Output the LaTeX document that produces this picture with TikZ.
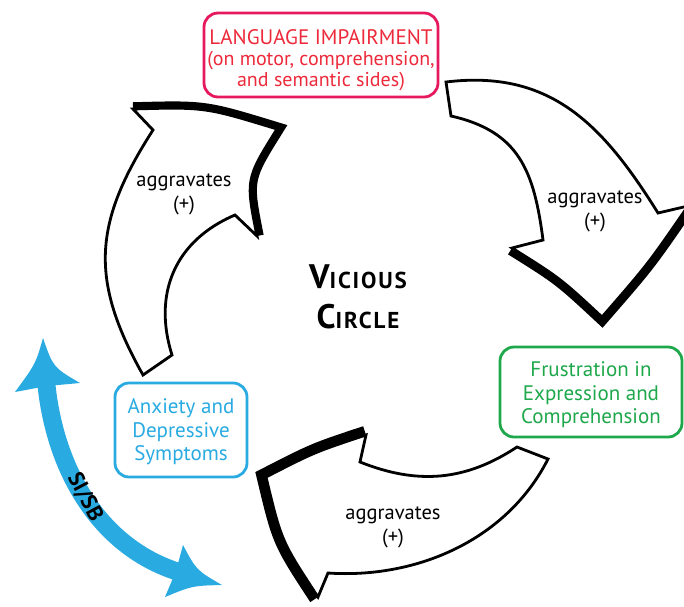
\documentclass[tikz,border=0pt]{standalone}
\usepackage{fontspec}
\setmainfont{PT Sans}
\newcommand\fsz[2]{\fontsize{#1}{#2}\selectfont}
\definecolor{langborder}{HTML}{E6195E}
\definecolor{langtext}{HTML}{ED2A3B}
\definecolor{frusgreen}{HTML}{1EA84B}
\definecolor{anxblue}{HTML}{29ABE2}
\definecolor{sicol}{HTML}{29ABE2}
\begin{document}
\begin{tikzpicture}[x=1pt,y=-1pt,
  arrowbody/.style={fill=white,draw=black,line width=2.8pt,line join=miter},
  shadeA/.style={draw=black,line width=13.5pt,line join=miter},
  shadeB/.style={draw=black,line width=15pt,line join=miter},
  shadeC/.style={draw=black,line width=18.5pt,line join=miter},
  box/.style={rounded corners=14pt,line width=2.8pt,fill=white,inner sep=0pt},
  boxtext/.style={align=center,inner sep=0pt},
  agg/.style={align=center,font=\fsz{20.5}{24}},
  siline/.style={draw=sicol,line width=18pt}]
\useasboundingbox (0,0) rectangle (684,606);

% arrow 1 (left, upwards)
\begin{scope}
  \clip (153,130) -- (133,109) -- (53,25) -- (380,0) -- (380,320) -- (345,320) -- (257,236) -- (235,215) -- cycle;
  \draw[shadeA] (133,109) .. controls (205,107) .. (277,129) .. controls (245.7,179.2) .. (257,236);
\end{scope}
\draw[arrowbody] (143,375) .. controls (89,279) and (93.6,222.4) .. (153,130) -- (133,109)
  .. controls (205,107) .. (277,129) .. controls (245.7,179.2) .. (257,236) -- (235,215)
  .. controls (175.2,240.4) and (152.5,293.3) .. (172,355) -- cycle;

% arrow 2 (right, downwards)
\begin{scope}
  \clip (543,240) -- (512,248) -- (388,280) -- (388,420) -- (808,420) -- (808,178) -- (688,206) -- (658,213) -- cycle;
  \draw[shadeB] (512,248) .. controls (560.2,278.2) .. (602,317) .. controls (648.2,263.9) .. (688,206);
\end{scope}
\draw[arrowbody] (446,82) .. controls (550,69.4) and (602.4,123.8) .. (658,213) -- (688,206)
  .. controls (648.2,263.9) .. (602,317) .. controls (560.2,278.2) .. (512,248) -- (543,240)
  .. controls (534,170.7) and (519,131.4) .. (451,116) -- cycle;

% arrow 3 (bottom, leftwards)
\begin{scope}
  \clip (360,462) -- (366,435) -- (390,327) -- (150,327) -- (150,693) -- (278,693) -- (318,597) -- (328,573) -- cycle;
  \draw[shadeC] (366,435) .. controls (314.7,452) .. (266,477) .. controls (281.3,541) .. (318,597);
\end{scope}
\draw[arrowbody] (517,447) -- (548,459) .. controls (507.5,539) and (418,579) .. (328,573) -- (318,597)
  .. controls (281.3,541) .. (266,477) .. controls (314.7,452) .. (366,435) -- (360,462)
  .. controls (417.7,485) and (465.5,481) .. (517,447) -- cycle;

% SI/SB double arrow
\draw[siline] (46,380) .. controls (53.4,465.7) and (97.3,548) .. (182,573);
\fill[sicol] (43,338) .. controls (35.7,363.7) .. (15,392) -- (47,386) -- (80,383)
  .. controls (53.2,367.3) .. (43,338) -- cycle;
\fill[sicol] (222,585) .. controls (196.5,570.3) .. (183,545) -- (176,571) -- (165,597)
  .. controls (192.4,585.7) .. (222,585) -- cycle;
\node[font=\fsz{22}{22}\bfseries,rotate=-62] (sisb) at (85,497) {SI/SB};

% boxes
\node[box,draw=langborder,minimum width=234pt,minimum height=84pt] (lang) at (321,55) {};
\node[boxtext,text=langtext,font=\fsz{21}{21}] (langtxt) at (321,60)
  {LANGUAGE IMPAIRMENT\\\fsz{20}{21}(on motor, comprehension,\\\fsz{20}{21}and semantic sides)};
\node[box,draw=frusgreen,minimum width=182pt,minimum height=90pt] (frus) at (591,392) {};
\node[boxtext,text=frusgreen,font=\fsz{21}{23.5}] (frustxt) at (591,395)
  {Frustration in\\Expression and\\Comprehension};
\node[box,draw=anxblue,minimum width=132pt,minimum height=94pt] (anx) at (181,430) {};
\node[boxtext,text=anxblue,font=\fsz{21}{23.5}] (anxtxt) at (181,432)
  {Anxiety and\\Depressive\\Symptoms};

% labels
\node[agg] (ag1) at (184,194) {aggravates\\(+)};
\node[agg] (ag2) at (595,211) {aggravates\\(+)};
\node[agg] (ag3) at (393,527) {aggravates\\(+)};
\node[align=center,font=\fsz{34}{40}\bfseries\addfontfeature{LetterSpace=8}] (vc) at (358,297)
  {V{\fsz{23}{40}ICIOUS}\\C{\fsz{23}{40}IRCLE}};
\end{tikzpicture}
\end{document}
